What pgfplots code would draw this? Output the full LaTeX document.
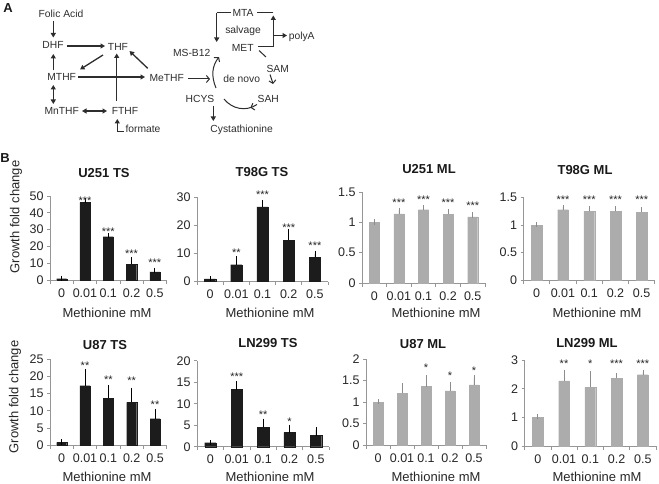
\documentclass[border=0pt]{standalone}
\usepackage{fontspec}
\setmainfont{Liberation Sans}
\usepackage{pgfplots}
\pgfplotsset{compat=1.18}
\usetikzlibrary{arrows.meta,decorations.markings}
\definecolor{axgray}{RGB}{150,150,150}
\definecolor{tsfill}{RGB}{28,28,28}
\definecolor{mlfill}{RGB}{172,172,172}
\definecolor{mlerr}{RGB}{140,140,140}
\definecolor{ink}{RGB}{45,45,45}
\pgfplotsset{
 gbar/.style={scale only axis, anchor=south west, clip=false,
  xmin=-0.5, xmax=4.5, ymin=0,
  axis lines*=left,
  axis line style={axgray, line width=0.7pt},
  tick align=outside, major tick length=3pt, minor tick length=3.5pt,
  tick style={axgray, line width=0.7pt},
  xtick={0,1,2,3,4}, xticklabels={0,0.01,0.1,0.2,0.5},
  every major x tick/.style={draw=none},
  minor xtick={-0.5,0.5,1.5,2.5,3.5,4.5},
  /pgf/number format/assume math mode=true,
  /pgf/number format/fixed,
  tick label style={font=\fontsize{12.5}{14}\selectfont, text=black!85},
  xticklabel style={yshift=-2pt},
 },
 ts/.style={ybar, bar width=0.43, fill=tsfill, draw=tsfill, line width=0.1pt,
   error bars/.cd, y dir=plus, y explicit,
   error bar style={black, line width=0.7pt},
   error mark options={black, line width=0.7pt, mark size=2.6pt}},
 ml/.style={ybar, bar width=0.41, fill=mlfill, draw=mlfill, line width=0.1pt,
   error bars/.cd, y dir=plus, y explicit,
   error bar style={mlerr, line width=0.7pt},
   error mark options={mlerr, line width=0.7pt, mark size=2.6pt}},
 stars/.style={draw=none, nodes near coords, point meta=explicit symbolic,
   every node near coord/.append style={anchor=center, inner sep=0pt,
   font=\fontsize{11}{11}\selectfont, text=black!85, yshift=-2.3pt}},
}
\begin{document}
\begin{tikzpicture}[x=1pt,y=1pt]
\useasboundingbox (0pt,0pt) rectangle (659pt,483pt);

% ---------- Row 1 ----------
\begin{axis}[gbar, at={(50pt,203pt)}, width=116.5pt, height=84pt, ymax=50, ytick={0,10,...,50}]
\addplot[ts] coordinates {(0,0.8) += (0,0.2) -= (0,0) (1,46.2) += (0,0.9) -= (0,0) (2,25.8) += (0,0.6) -= (0,0) (3,9.5) += (0,2.4) -= (0,0) (4,4.8) += (0,0.9) -= (0,0)};
\addplot[stars] coordinates {(1,48.3) [***] (2,30.4) [***] (3,16.9) [***] (4,11.9) [***]};
\end{axis}
\begin{axis}[gbar, at={(197pt,201.5pt)}, width=131pt, height=84.2pt, ymax=30, ytick={0,10,20,30}]
\addplot[ts] coordinates {(0,0.9) += (0,0.1) -= (0,0) (1,6.0) += (0,2.0) -= (0,0) (2,26.6) += (0,1.5) -= (0,0) (3,14.7) += (0,3.2) -= (0,0) (4,8.6) += (0,1.3) -= (0,0)};
\addplot[stars] coordinates {(1,11.1) [**] (2,31.8) [***] (3,20.1) [***] (4,13.5) [***]};
\end{axis}
\begin{axis}[gbar, at={(362pt,200pt)}, width=123pt, height=91pt, ymax=1.5, ytick={0,0.5,1,1.5}]
\addplot[ml] coordinates {(0,1.0) += (0,0.005) -= (0,0) (1,1.14) += (0,0.06) -= (0,0) (2,1.21) += (0,0.03) -= (0,0) (3,1.13) += (0,0.05) -= (0,0) (4,1.09) += (0,0.03) -= (0,0)};
\addplot[stars] coordinates {(1,1.357) [***] (2,1.418) [***] (3,1.357) [***] (4,1.313) [***]};
\end{axis}
\begin{axis}[gbar, at={(523.6pt,203pt)}, width=131.2pt, height=82.7pt, ymax=1.5, ytick={0,0.5,1,1.5}]
\addplot[ml] coordinates {(0,0.99) += (0,0.01) -= (0,0) (1,1.275) += (0,0.045) -= (0,0) (2,1.245) += (0,0.045) -= (0,0) (3,1.245) += (0,0.045) -= (0,0) (4,1.23) += (0,0.05) -= (0,0)};
\addplot[stars] coordinates {(1,1.49) [***] (2,1.49) [***] (3,1.49) [***] (4,1.49) [***]};
\end{axis}

% ---------- Row 2 ----------
\begin{axis}[gbar, at={(50pt,38pt)}, width=116.7pt, height=85.7pt, ymax=25, ytick={0,5,...,25}]
\addplot[ts] coordinates {(0,0.8) += (0,0.1) -= (0,0) (1,17.3) += (0,4.1) -= (0,0) (2,13.6) += (0,3.1) -= (0,0) (3,12.4) += (0,3.4) -= (0,0) (4,7.7) += (0,1.9) -= (0,0)};
\addplot[stars] coordinates {(1,23.8) [**] (2,19.7) [**] (3,19.3) [**] (4,12.5) [**]};
\end{axis}
\begin{axis}[gbar, at={(197.1pt,36.3pt)}, width=132pt, height=86pt, ymax=20, ytick={0,5,...,20}]
\addplot[ts] coordinates {(0,0.93) += (0,0.05) -= (0,0) (1,13.3) += (0,1.3) -= (0,0) (2,4.5) += (0,1.4) -= (0,0) (3,3.3) += (0,1.2) -= (0,0) (4,2.6) += (0,1.3) -= (0,0)};
\addplot[stars] coordinates {(1,16.9) [***] (2,7.9) [**] (3,6.4) [*]};
\end{axis}
\begin{axis}[gbar, at={(366pt,38pt)}, width=120pt, height=86pt, ymax=2, ytick={0,0.5,...,2}]
\addplot[ml] coordinates {(0,1.0) += (0,0.01) -= (0,0) (1,1.2) += (0,0.17) -= (0,0) (2,1.36) += (0,0.21) -= (0,0) (3,1.26) += (0,0.14) -= (0,0) (4,1.40) += (0,0.17) -= (0,0)};
\addplot[stars] coordinates {(2,1.86) [*] (3,1.66) [*] (4,1.79) [*]};
\end{axis}
\begin{axis}[gbar, at={(524.6pt,37pt)}, width=131.4pt, height=86pt, ymax=3, ytick={0,1,2,3}]
\addplot[ml] coordinates {(0,1.0) += (0,0.02) -= (0,0) (1,2.27) += (0,0.30) -= (0,0) (2,2.05) += (0,0.47) -= (0,0) (3,2.37) += (0,0.08) -= (0,0) (4,2.49) += (0,0.08) -= (0,0)};
\addplot[stars] coordinates {(1,2.94) [**] (2,2.94) [*] (3,2.94) [***] (4,2.94) [***]};
\end{axis}

% ---------- texts in image coordinates (y downward) ----------
\begin{scope}[shift={(0pt,483pt)}, yscale=-1]
\begin{scope}[font=\fontsize{13}{15}\selectfont\bfseries, text=black!90]
\node at (8,8) {A};
\node at (5,158) {B};
\node at (104,173) {U251 TS};
\node at (262,172) {T98G TS};
\node at (429,169) {U251 ML};
\node at (585,170) {T98G ML};
\node at (105,345) {U87 TS};
\node at (268,343) {LN299 TS};
\node at (423,344) {U87 ML};
\node at (587,343) {LN299 ML};
\end{scope}
\begin{scope}[font=\fontsize{13}{15}\selectfont, text=black!85]
\node at (107,313) {Methionine mM};
\node at (270,313) {Methionine mM};
\node at (436,313) {Methionine mM};
\node at (597,313) {Methionine mM};
\node at (107,477) {Methionine mM};
\node at (270,477) {Methionine mM};
\node at (436,477) {Methionine mM};
\node at (597,477) {Methionine mM};
\node[rotate=90] at (16,217) {Growth fold change};
\node[rotate=90] at (15,397) {Growth fold change};
\end{scope}

% ---------- Panel A diagram ----------
\begin{scope}[font=\fontsize{10.3}{12}\selectfont, text=ink]
\node at (61,14.3) {Folic Acid};
\node at (53,45) {DHF};
\node at (118,46.7) {THF};
\node at (61.7,77.3) {MTHF};
\node at (166.7,77.7) {MeTHF};
\node at (61.7,111) {MnTHF};
\node at (125,111) {FTHF};
\node at (143,129.3) {formate};
\node at (243,12.7) {MTA};
\node at (243,30.7) {salvage};
\node at (242.7,47.7) {MET};
\node at (301.7,36.7) {polyA};
\node at (191.7,53.3) {MS-B12};
\node at (277.7,69) {SAM};
\node at (241.7,79) {de novo};
\node at (268.3,99.3) {SAH};
\node at (200,99.3) {HCYS};
\node at (241.7,130) {Cystathionine};
\end{scope}
\begin{scope}[ink, line width=1.3pt, >={Triangle[length=4.5pt,width=5pt]}]
\draw[->] (53.3,21) -- (53.3,37.5);
\draw[->] (67,46) -- (105,46);
\draw[->] (53.3,70.5) -- (53.3,54);
\draw[->] (103,55) -- (80,69.5);
\draw[->] (78,77) -- (145,77);
\draw[->] (147.7,68.3) -- (129.5,51);
\draw[->] (116.7,101) -- (116.7,53.5);
\draw[<->] (53.3,85) -- (53.3,104);
\draw[<->] (82,111) -- (107,111);
\draw[->] (124,131.5) -- (117.3,131.5) -- (117.3,119);
\draw[->] (213.3,106) -- (213.3,121);
\draw (231,12.7) -- (216.7,12.7);
\draw[->] (216.7,12.7) -- (216.7,42);
\draw (258,46.7) -- (273.3,46.7);
\draw[->] (273.3,46.7) -- (273.3,15.5);
\draw (273.3,12.7) -- (257,12.7);
\draw[->] (273.3,35.5) -- (287,35.5);
\end{scope}
\begin{scope}[ink, line width=1pt, cb/.style={-{Straight Barb[length=3pt,width=7pt]}}]
\draw[cb] (188,79) -- (210,79);
\draw[cb] (216,88) .. controls (211,76) and (212,66) .. (219,57);
\draw (259,50.5) -- (266,57);
\draw[cb] (270,74.5) .. controls (272,78) .. (273,84);
\draw[postaction={decorate}, decoration={markings, mark=at position 0.2 with {\arrow{Straight Barb[length=3pt,width=7pt]}}}] (257,104.5) .. controls (246,112) and (232,109) .. (224,99);
\end{scope}
\end{scope}
\end{tikzpicture}
\end{document}
